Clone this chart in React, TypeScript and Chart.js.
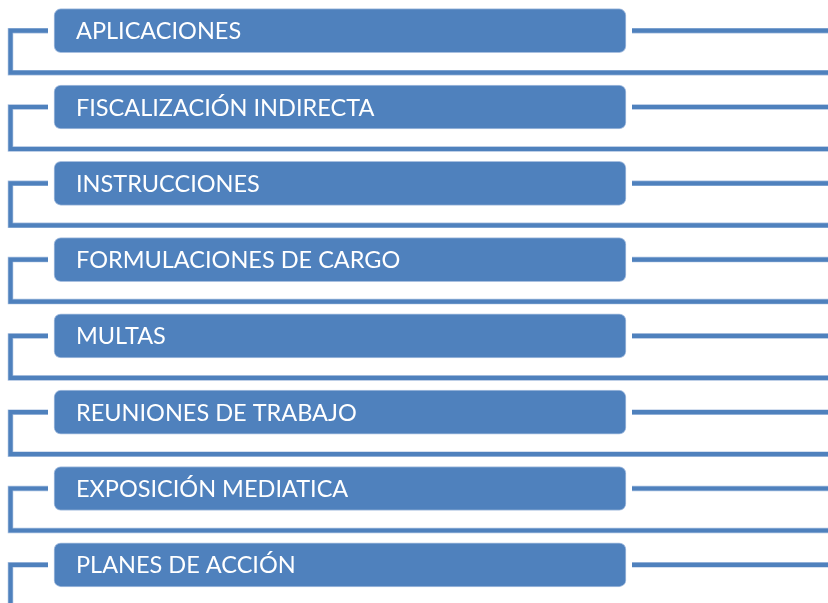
import React, { useEffect, useRef } from "react";
import { Chart, registerables } from "chart.js";

Chart.register(...registerables);

const categories = [
  "APLICACIONES",
  "FISCALIZACIÓN INDIRECTA",
  "INSTRUCCIONES",
  "FORMULACIONES DE CARGO",
  "MULTAS",
  "REUNIONES DE TRABAJO",
  "EXPOSICIÓN MEDIATICA",
  "PLANES DE ACCIÓN",
];
// each step has the same (unit) span in the diagram
const spanStart = [0, 0, 0, 0, 0, 0, 0, 0];
const spanEnd = [1, 1, 1, 1, 1, 1, 1, 1];

const BLUE = "#4f81bd";
const EDGE = "#a9c0e0";

const diagramPlugin = {
  id: "diagram",
  beforeDatasetsDraw(chart: any) {
    const ctx = chart.ctx;
    const meta = chart.getDatasetMeta(0);
    const W = chart.width;
    ctx.save();
    ctx.lineJoin = "miter";
    ctx.lineCap = "butt";
    meta.data.forEach((el: any) => {
      const p = el.getProps(["x", "y", "base", "height"], true);
      const left = Math.min(p.x, p.base);
      const right = Math.max(p.x, p.base);
      const cy = p.y;
      const yb = cy + p.height / 2 + 20;
      const vx = 10.5;
      const paths = () => {
        ctx.beginPath();
        ctx.moveTo(left - 6, cy);
        ctx.lineTo(vx, cy);
        ctx.lineTo(vx, yb);
        ctx.lineTo(W + 5, yb);
        ctx.moveTo(right + 6, cy);
        ctx.lineTo(W + 5, cy);
      };
      paths();
      ctx.strokeStyle = EDGE;
      ctx.lineWidth = 5.5;
      ctx.stroke();
      paths();
      ctx.strokeStyle = BLUE;
      ctx.lineWidth = 4.2;
      ctx.stroke();
    });
    ctx.restore();
  },
  afterDatasetsDraw(chart: any) {
    const ctx = chart.ctx;
    const meta = chart.getDatasetMeta(0);
    ctx.save();
    ctx.fillStyle = "#ffffff";
    ctx.font = "23.5px Lato";
    ctx.textAlign = "left";
    ctx.textBaseline = "alphabetic";
    const capH = ctx.measureText("H").actualBoundingBoxAscent;
    meta.data.forEach((el: any, i: number) => {
      const p = el.getProps(["x", "y", "base"], true);
      const left = Math.min(p.x, p.base);
      ctx.fillText(categories[i], left + 22, p.y + capH / 2);
    });
    ctx.restore();
  },
};

export default function App() {
  const ref = useRef<HTMLCanvasElement | null>(null);
  useEffect(() => {
    if (!ref.current) return;
    const chart = new Chart(ref.current, {
      type: "bar",
      data: {
        labels: categories,
        datasets: [
          {
            data: categories.map((_, i) => ({ y: i, x: [spanStart[i], spanEnd[i]] })) as any,
            backgroundColor: BLUE,
            borderColor: EDGE,
            borderWidth: 1,
            borderRadius: 7,
            borderSkipped: false,
            barThickness: 44,
          },
        ],
      },
      options: {
        indexAxis: "y",
        animation: false,
        responsive: false,
        maintainAspectRatio: false,
        layout: { padding: 0 },
        plugins: { legend: { display: false }, tooltip: { enabled: false } },
        scales: {
          x: { type: "linear", display: false, offset: false, min: -54 / 572, max: 774 / 572 },
          y: {
            type: "linear",
            display: false,
            offset: false,
            reverse: true,
            min: -30.7 / 76.3,
            max: (603 - 30.7) / 76.3,
          },
        },
      },
      plugins: [diagramPlugin],
    });
    return () => chart.destroy();
  }, []);
  return (
    <div style={{ position: "absolute", left: 0, top: 0, width: 828, height: 603, background: "#fff" }}>
      <canvas ref={ref} width={828} height={603} />
    </div>
  );
}
